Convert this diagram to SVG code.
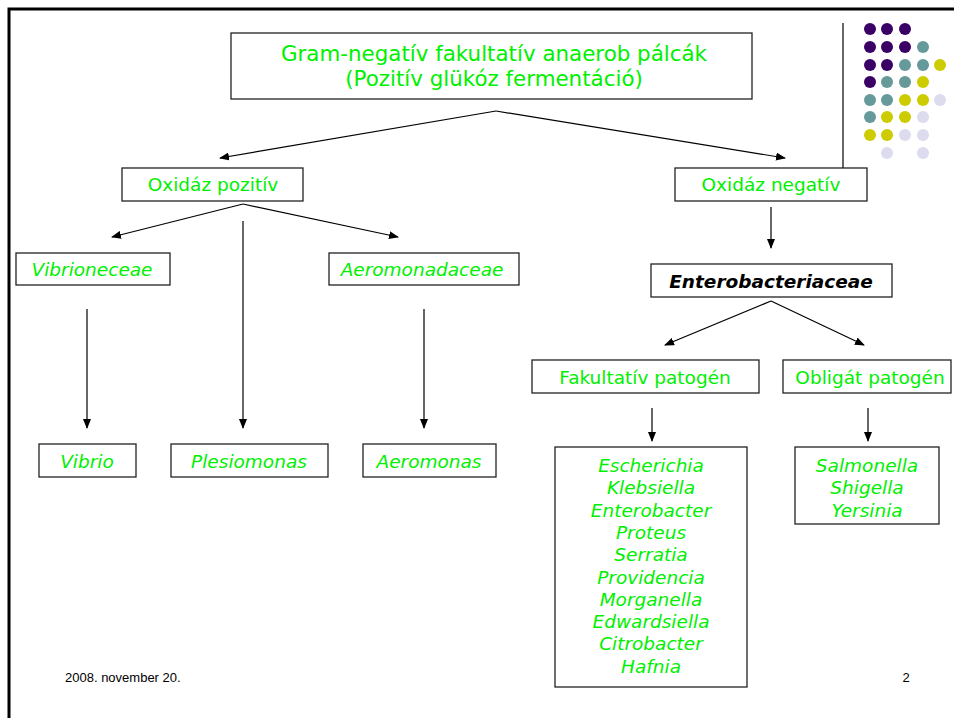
<svg xmlns="http://www.w3.org/2000/svg" width="954" height="718" viewBox="0 0 954 718">
<defs>
<marker id="ah" markerWidth="10" markerHeight="8" refX="9" refY="4" orient="auto" markerUnits="userSpaceOnUse">
<path d="M0,0 L10,4 L0,8 Z" fill="#000"/>
</marker>
<style>
.box{fill:#fff;stroke:#222;stroke-width:1.3}
.g{fill:#00f000;font-family:"DejaVu Sans",Verdana,sans-serif;font-size:18.5px;text-anchor:middle}
.i{font-style:italic}
.c{fill:none;stroke:#000;stroke-width:1.2}
.small{font-family:"Liberation Sans",Arial,sans-serif;font-size:13px;fill:#000}
</style>
</defs>
<rect width="954" height="718" fill="#fff"/>
<g id="frame">
<path d="M9,718 V9 H954" fill="none" stroke="#000" stroke-width="3"/>
<line x1="843" y1="23" x2="843" y2="183" stroke="#000" stroke-width="1.2"/>
</g>
<g id="dots">
<g fill="#3b0066">
<circle cx="870" cy="29" r="6"/><circle cx="887" cy="29" r="6"/><circle cx="905" cy="29" r="6"/>
<circle cx="870" cy="47" r="6"/><circle cx="887" cy="47" r="6"/><circle cx="905" cy="47" r="6"/>
<circle cx="870" cy="65" r="6"/><circle cx="887" cy="65" r="6"/>
<circle cx="870" cy="82" r="6"/>
</g>
<g fill="#669999">
<circle cx="923" cy="47" r="6"/>
<circle cx="905" cy="65" r="6"/><circle cx="923" cy="65" r="6"/>
<circle cx="887" cy="82" r="6"/><circle cx="905" cy="82" r="6"/>
<circle cx="870" cy="100" r="6"/><circle cx="887" cy="100" r="6"/>
<circle cx="870" cy="117" r="6"/>
</g>
<g fill="#cccc00">
<circle cx="940" cy="65" r="6"/>
<circle cx="923" cy="82" r="6"/>
<circle cx="905" cy="100" r="6"/><circle cx="923" cy="100" r="6"/>
<circle cx="887" cy="117" r="6"/><circle cx="905" cy="117" r="6"/>
<circle cx="870" cy="135" r="6"/><circle cx="887" cy="135" r="6"/>
</g>
<g fill="#dcdcee">
<circle cx="940" cy="100" r="6"/>
<circle cx="923" cy="117" r="6"/>
<circle cx="905" cy="135" r="6"/><circle cx="923" cy="135" r="6"/>
<circle cx="887" cy="153" r="6"/><circle cx="923" cy="153" r="6"/>
</g>
</g>
<g id="connectors">
<line class="c" x1="496" y1="111" x2="220" y2="158" marker-end="url(#ah)"/>
<line class="c" x1="496" y1="111" x2="785" y2="158" marker-end="url(#ah)"/>
<line class="c" x1="243" y1="204" x2="112" y2="237" marker-end="url(#ah)"/>
<line class="c" x1="243" y1="204" x2="398" y2="237" marker-end="url(#ah)"/>
<line class="c" x1="243" y1="221" x2="243" y2="428" marker-end="url(#ah)"/>
<line class="c" x1="87" y1="309" x2="87" y2="428" marker-end="url(#ah)"/>
<line class="c" x1="424" y1="309" x2="424" y2="428" marker-end="url(#ah)"/>
<line class="c" x1="771" y1="207" x2="771" y2="248" marker-end="url(#ah)"/>
<line class="c" x1="771" y1="301" x2="665" y2="345" marker-end="url(#ah)"/>
<line class="c" x1="771" y1="301" x2="864" y2="345" marker-end="url(#ah)"/>
<line class="c" x1="652" y1="408" x2="652" y2="441" marker-end="url(#ah)"/>
<line class="c" x1="868" y1="408" x2="868" y2="441" marker-end="url(#ah)"/>
</g>
<g id="root">
<rect class="box" x="231" y="33" width="521" height="66"/>
<text class="g" x="494" y="61" style="font-size:21.4px">Gram-negatív fakultatív anaerob pálcák</text>
<text class="g" x="494" y="86" style="font-size:21.4px">(Pozitív glükóz fermentáció)</text>
</g>
<g id="oxpos">
<rect class="box" x="122" y="168" width="181" height="33"/>
<text class="g" x="213" y="191">Oxidáz pozitív</text>
</g>
<g id="oxneg">
<rect class="box" x="675" y="168" width="192" height="33"/>
<text class="g" x="771" y="191">Oxidáz negatív</text>
</g>
<g id="vibrioneceae">
<rect class="box" x="16" y="253" width="154" height="32"/>
<text class="g i" x="92" y="276">Vibrioneceae</text>
</g>
<g id="aeromonadaceae">
<rect class="box" x="329" y="253" width="190" height="32"/>
<text class="g i" x="422" y="276">Aeromonadaceae</text>
</g>
<g id="enterobacteriaceae">
<rect class="box" x="651" y="264" width="241" height="33"/>
<text class="g i" x="771" y="288" style="fill:#000;font-weight:bold">Enterobacteriaceae</text>
</g>
<g id="fakultativ">
<rect class="box" x="532" y="360" width="227" height="33"/>
<text class="g" x="645" y="384">Fakultatív patogén</text>
</g>
<g id="obligat">
<rect class="box" x="783" y="360" width="168" height="33"/>
<text class="g" x="870" y="384">Obligát patogén</text>
</g>
<g id="vibrio">
<rect class="box" x="39" y="444" width="97" height="33"/>
<text class="g i" x="87" y="468">Vibrio</text>
</g>
<g id="plesiomonas">
<rect class="box" x="171" y="444" width="157" height="33"/>
<text class="g i" x="249" y="468">Plesiomonas</text>
</g>
<g id="aeromonas">
<rect class="box" x="363" y="444" width="133" height="33"/>
<text class="g i" x="429" y="468">Aeromonas</text>
</g>
<g id="fak-list">
<rect class="box" x="555" y="447" width="192" height="240"/>
<text class="g i" x="651" y="472">Escherichia</text>
<text class="g i" x="651" y="494.3">Klebsiella</text>
<text class="g i" x="651" y="516.6">Enterobacter</text>
<text class="g i" x="651" y="538.9">Proteus</text>
<text class="g i" x="651" y="561.2">Serratia</text>
<text class="g i" x="651" y="583.5">Providencia</text>
<text class="g i" x="651" y="605.8">Morganella</text>
<text class="g i" x="651" y="628.1">Edwardsiella</text>
<text class="g i" x="651" y="650.4">Citrobacter</text>
<text class="g i" x="651" y="672.7">Hafnia</text>
</g>
<g id="obl-list">
<rect class="box" x="795" y="447" width="144" height="77"/>
<text class="g i" x="867" y="472">Salmonella</text>
<text class="g i" x="867" y="494.3">Shigella</text>
<text class="g i" x="867" y="516.6">Yersinia</text>
</g>
<g id="footer">
<text class="small" x="65" y="682">2008. november 20.</text>
<text class="small" x="906" y="682" text-anchor="middle">2</text>
</g>
</svg>
